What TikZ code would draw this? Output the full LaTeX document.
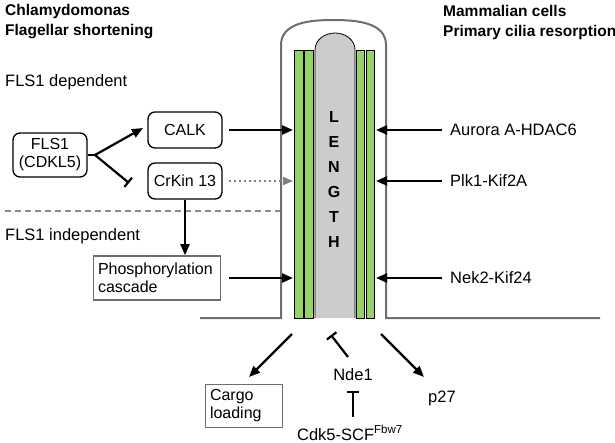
\documentclass[tikz,border=0pt]{standalone}
\usepackage{fontspec}
\setmainfont{Liberation Sans}
\usetikzlibrary{arrows.meta}
\definecolor{grn}{RGB}{150,210,100}
\definecolor{mem}{RGB}{110,110,110}
\begin{document}
\begin{tikzpicture}[x=1pt,y=-1pt,
  rbox/.style={draw,rounded corners=7pt,line width=1.3pt,align=center,font=\fontsize{16}{18}\selectfont,inner sep=2pt},
  sbox/.style={draw=mem,line width=1.6pt,align=left,font=\fontsize{16}{18}\selectfont,inner sep=3pt},
  lbl/.style={font=\fontsize{16.5}{18}\selectfont,inner sep=0pt},
  hdr/.style={font=\bfseries\fontsize{15.5}{20}\selectfont,align=left,inner sep=0pt,anchor=west},
  arr/.style={line width=2.2pt,-{Triangle[length=11pt,width=9pt]}},
  inh/.style={line width=2.2pt,-{Bar[width=12pt]}}]
\useasboundingbox (0,0) rectangle (615,442);
% membrane
\draw[mem,line width=2pt] (200,318) -- (281,318) -- (281,45) to[out=90,in=180] (333,20) to[out=0,in=90] (386,45) -- (386,318) -- (600,318);
% axoneme core
\fill[gray!40] (315,318) -- (315,50) to[out=90,in=180] (335,33) to[out=0,in=90] (355,50) -- (355,318) -- cycle;
\draw[line width=0.8pt] (315,318) -- (315,50) to[out=90,in=180] (335,33) to[out=0,in=90] (355,50) -- (355,318);
\foreach \a/\b in {294/303,304/313,356/364,366/374}
  \draw[fill=grn,line width=0.8pt] (\a,50) rectangle (\b,318);
\foreach \l [count=\i] in {L,E,N,G,T,H}
  \node[font=\bfseries\fontsize{16}{18}\selectfont] (len\i) at (334,92+25*\i) {\l};
% headers
\node[hdr] (h1) at (5,22) {Chlamydomonas\\Flagellar shortening};
\node[hdr] (h2) at (443,22) {Mammalian cells\\Primary cilia resorption};
\node[lbl,anchor=west] (dep) at (5,82) {FLS1 dependent};
\node[lbl,anchor=west] (indep) at (5,236) {FLS1 independent};
\draw[mem!80,line width=2pt,dash pattern=on 6pt off 4pt] (5,211) -- (280,211);
% nodes
\node[rbox,minimum width=74pt,minimum height=44pt] (fls) at (50,155) {FLS1\\(CDKL5)};
\node[rbox,minimum width=74pt,minimum height=36pt] (calk) at (185,130) {CALK};
\node[rbox,minimum width=74pt,minimum height=36pt] (crk) at (185,181) {CrKin 13};
\node[sbox,minimum width=127pt,minimum height=44pt,text width=118pt] (pho) at (157,278) {Phosphorylation\\cascade};
\node[sbox,minimum width=77pt,minimum height=43pt,text width=68pt] (cargo) at (244,406) {Cargo\\loading};
\node[lbl] (nde) at (353,375) {Nde1};
\node[lbl] (cdk) at (350,433) {Cdk5-SCF$^{\mathrm{Fbw7}}$};
\node[lbl,anchor=west] (p27) at (428,398) {p27};
\node[lbl,anchor=west] (aur) at (450,130) {Aurora A-HDAC6};
\node[lbl,anchor=west] (plk) at (450,181) {Plk1-Kif2A};
\node[lbl,anchor=west] (nek) at (450,278) {Nek2-Kif24};
\coordinate (lt1) at (293,130); \coordinate (lt2) at (293,181); \coordinate (lt3) at (293,278);
\coordinate (rt1) at (376,130); \coordinate (rt2) at (376,181); \coordinate (rt3) at (376,278);
\coordinate (br) at (95,155);
\coordinate (bl1) at (292,334); \coordinate (bl2) at (381,334); \coordinate (nt) at (331,335);
\coordinate (ca) at (249,377); \coordinate (pa) at (424,377);
\coordinate (nb) at (348,357); \coordinate (cb) at (353,417); \coordinate (nd) at (353,391);
% connectors
\draw[line width=2.2pt] (br) -- (fls.east);
\draw[arr] (br) -- (143,128);
\draw[inh] (br) -- (129,183);
\draw[arr] (calk.east) ++(6,0) -- (lt1);
\draw[gray,line width=1.8pt,dash pattern=on 2pt off 3pt,-{Triangle[length=10pt,width=8pt]}] (crk.east) ++(6,0) -- (lt2);
\draw[arr] (crk.south) -- (crk.south |- pho.north);
\draw[arr] (pho.east) ++(8,0) -- (lt3);
\draw[arr] (442,130) -- (rt1);
\draw[arr] (442,181) -- (rt2);
\draw[arr] (442,278) -- (rt3);
\draw[arr] (bl1) -- (ca);
\draw[arr] (bl2) -- (pa);
\draw[inh] (nb) -- (nt);
\draw[inh] (cb) -- (nd);
\end{tikzpicture}
\end{document}
